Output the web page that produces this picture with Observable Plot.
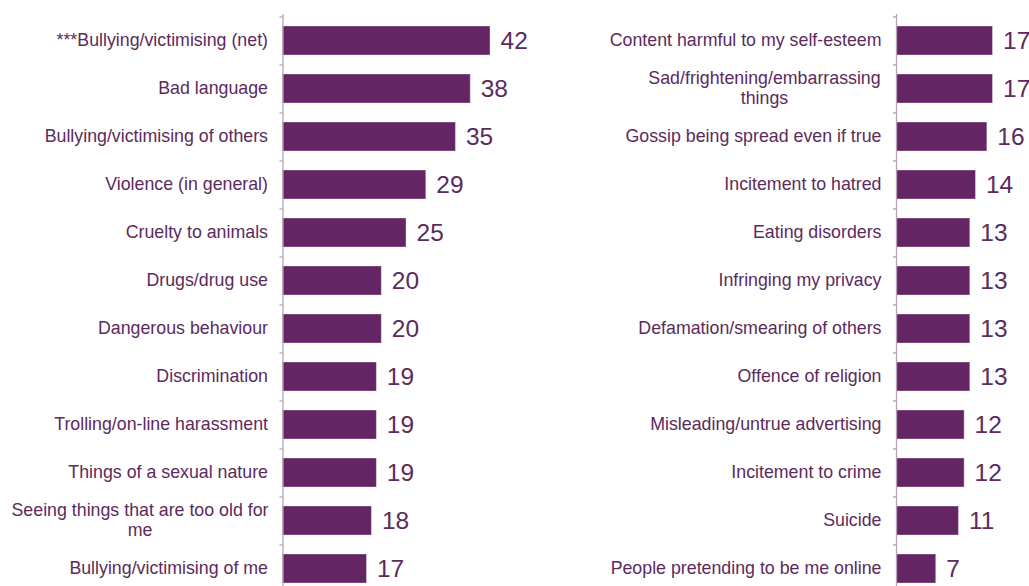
<!DOCTYPE html>
<html>
<head>
<meta charset="utf-8">
<script src="https://cdn.jsdelivr.net/npm/d3@7"></script>
<script src="https://cdn.jsdelivr.net/npm/@observablehq/plot@0.6"></script>
<style>
  html, body { margin: 0; padding: 0; background: #ffffff; overflow: hidden; }
  #wrap { display: flex; width: 1029px; height: 586px; }
  svg { display: block; overflow: visible; }
</style>
</head>
<body>
<div id="wrap"><div id="left"></div><div id="right"></div></div>
<script>
const leftCategories = [
  "***Bullying/victimising (net)",
  "Bad language",
  "Bullying/victimising of others",
  "Violence (in general)",
  "Cruelty to animals",
  "Drugs/drug use",
  "Dangerous behaviour",
  "Discrimination",
  "Trolling/on-line harassment",
  "Things of a sexual nature",
  "Seeing things that are too old for\nme",
  "Bullying/victimising of me"
];
const leftValues = [42, 38, 35, 29, 25, 20, 20, 19, 19, 19, 18, 17];

const rightCategories = [
  "Content harmful to my self-esteem",
  "Sad/frightening/embarrassing\nthings",
  "Gossip being spread even if true",
  "Incitement to hatred",
  "Eating disorders",
  "Infringing my privacy",
  "Defamation/smearing of others",
  "Offence of religion",
  "Misleading/untrue advertising",
  "Incitement to crime",
  "Suicide",
  "People pretending to be me online"
];
const rightValues = [17, 17, 16, 14, 13, 13, 13, 13, 12, 12, 11, 7];

const barColor = "#632563";
const textColor = "#5c2a5c";
const axisColor = "#b3a3b3";
const font = "Liberation Sans, Arial, sans-serif";

function panel(categories, values, opts) {
  const data = categories.map((c, i) => ({label: c, value: values[i]}));
  const single = categories.filter(c => !c.includes("\n"));
  const wrapped = categories.filter(c => c.includes("\n"));
  const step = (opts.yRange[1] - opts.yRange[0]) / categories.length;
  return Plot.plot({
    width: opts.width,
    height: 586,
    marginTop: 14,
    marginBottom: 0,
    marginLeft: 0,
    marginRight: 0,
    style: {fontFamily: font, background: "transparent", overflow: "visible"},
    x: {domain: [0, opts.xMax], range: opts.xRange, axis: null},
    y: {domain: categories, range: opts.yRange, paddingInner: 0.4, paddingOuter: 0.2, align: 0.5, axis: null},
    marks: [
      Plot.barX(data, {x: "value", y: "label", fill: barColor, stroke: "#ffffff", strokeOpacity: 0.35, strokeWidth: 1}),
      Plot.ruleX([0], {stroke: axisColor, strokeWidth: 1.3}),
      Plot.ruleY(categories, {y: d => d, x1: -3 / opts.pxPerUnit, x2: 0, dy: -step / 2, stroke: axisColor, strokeWidth: 1.3}),
      Plot.axisY({anchor: "left", ticks: single, tickSize: 0, tickPadding: 15, dy: -1, fontSize: 17.8, fill: textColor, x: 0, label: null}),
      Plot.axisY({anchor: "left", ticks: wrapped, tickSize: 0, tickPadding: 15, textAnchor: "middle", dx: -opts.wrapOffset, dy: -1.5, fontSize: 17.8, fill: textColor, lineHeight: 1.15, x: 0, label: null}),
      Plot.text(data, {x: "value", y: "label", text: d => String(d.value), textAnchor: "start", dx: 10, dy: 0, fontSize: 24.5, fill: textColor})
    ]
  });
}

const left = panel(leftCategories, leftValues, {
  width: 580, xMax: 42, xRange: [282.5, 490], pxPerUnit: 4.93, yRange: [15, 593], wrapOffset: 128
});
document.getElementById("left").appendChild(left);

const right = panel(rightCategories, rightValues, {
  width: 449, xMax: 17, xRange: [316, 412.5], pxPerUnit: 5.65, yRange: [15, 593], wrapOffset: 117
});
document.getElementById("right").appendChild(right);
</script>
</body>
</html>
